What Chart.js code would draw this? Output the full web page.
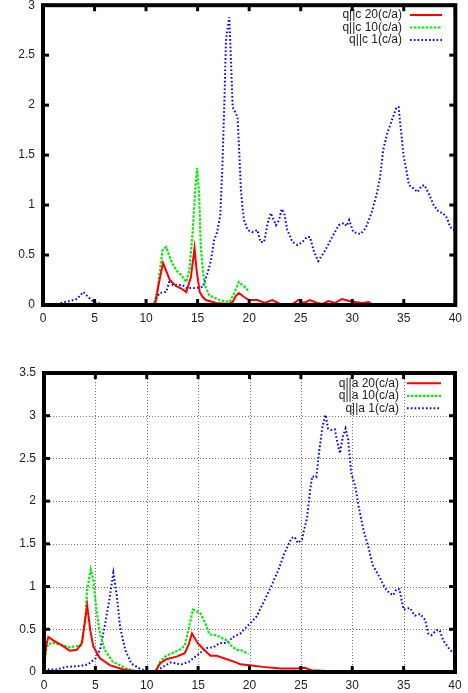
<!DOCTYPE html>
<html>
<head>
<meta charset="utf-8">
<script src="https://cdn.jsdelivr.net/npm/chart.js@4.4.1/dist/chart.umd.min.js"></script>
<style>
  html, body { margin: 0; padding: 0; background: #fff; width: 468px; height: 693px; overflow: hidden; }
  .wrap { position: absolute; left: 0; width: 468px; }
  #w1 { top: -10px; height: 345px; }
  #w2 { top: 340px; height: 353px; }
  canvas { display: block; }
</style>
</head>
<body>
<div class="wrap" id="w1"><canvas id="c1" width="468" height="345"></canvas></div>
<div class="wrap" id="w2"><canvas id="c2" width="468" height="353"></canvas></div>
<script>
// ---------- data ----------
const xTicks = [0, 5, 10, 15, 20, 25, 30, 35, 40];
const yTicksTop = [0, 0.5, 1, 1.5, 2, 2.5, 3];
const yTicksBottom = [0, 0.5, 1, 1.5, 2, 2.5, 3, 3.5];

const labelsTop = ['q||c 20(c/a)', 'q||c 10(c/a)', 'q||c 1(c/a)'];
const labelsBottom = ['q||a 20(c/a)', 'q||a 10(c/a)', 'q||a 1(c/a)'];

const qc20 = [[0,0],[10.5,0],[10.9,0.02],[11.3,0.25],[11.65,0.42],[12.0,0.33],[12.3,0.25],[12.9,0.19],[13.5,0.16],[13.9,0.13],[14.35,0.28],[14.7,0.57],[14.9,0.35],[15.2,0.13],[15.5,0.08],[15.8,0.05],[16.8,0.02],[18.0,0.01],[18.4,0.03],[18.7,0.09],[19.0,0.12],[19.5,0.08],[20.0,0.05],[20.8,0.05],[21.5,0.02],[22.25,0.05],[23.0,0.01],[24.2,0.01],[24.8,0.05],[25.3,0.02],[25.9,0.05],[26.6,0.02],[27.1,0.01],[27.7,0.04],[28.3,0.02],[29.0,0.06],[29.7,0.04],[30.3,0.03],[31.0,0.02],[31.6,0.03],[32.0,0.0],[40,0]];
const qc10 = [[0,0],[10.5,0],[10.8,0.02],[11.1,0.15],[11.6,0.55],[11.95,0.58],[12.4,0.45],[12.9,0.35],[13.4,0.3],[13.9,0.23],[14.2,0.35],[14.5,0.7],[14.8,1.2],[14.95,1.37],[15.15,1.1],[15.3,0.6],[15.5,0.35],[15.7,0.2],[16.1,0.1],[17.1,0.05],[18.1,0.03],[18.55,0.12],[19.0,0.23],[19.7,0.17],[20.0,0.13]];
const qc1 = [[1.4,0],[1.7,0.02],[2.6,0.04],[3.3,0.06],[3.9,0.13],[4.4,0.08],[4.9,0.03],[5.8,0.01],[6.5,0],[10.4,0],[10.8,0.03],[11.3,0.12],[11.95,0.13],[12.3,0.25],[12.6,0.2],[13.55,0.2],[13.9,0.17],[14.7,0.17],[15.5,0.18],[16.0,0.33],[16.3,0.45],[16.6,0.65],[16.9,0.73],[17.2,0.9],[17.4,1.38],[17.6,2.05],[17.75,2.65],[18.07,2.88],[18.2,2.55],[18.4,1.98],[18.55,1.95],[18.87,1.88],[19.03,1.55],[19.2,1.15],[19.35,0.98],[19.5,0.85],[19.85,0.75],[20.3,0.73],[20.8,0.75],[21.1,0.63],[21.45,0.63],[21.8,0.82],[22.1,0.92],[22.6,0.8],[22.9,0.85],[23.15,0.96],[23.4,0.92],[23.7,0.75],[24.2,0.63],[24.7,0.6],[25.15,0.63],[25.6,0.68],[25.9,0.68],[26.3,0.53],[26.7,0.44],[27.4,0.55],[28.05,0.68],[28.7,0.8],[29.2,0.82],[29.45,0.79],[29.7,0.85],[30.1,0.73],[30.8,0.71],[31.3,0.77],[31.9,0.93],[32.4,1.12],[32.7,1.28],[33.0,1.55],[33.4,1.72],[33.85,1.85],[34.3,1.98],[34.5,1.98],[34.65,1.82],[35.0,1.48],[35.3,1.32],[35.5,1.2],[35.9,1.17],[36.35,1.13],[36.7,1.19],[37.0,1.2],[37.4,1.12],[37.9,1.0],[38.4,0.93],[38.8,0.92],[39.2,0.87],[39.5,0.78],[40,0.74]];

const qa20 = [[0,0.06],[0.2,0.3],[0.42,0.41],[0.9,0.37],[1.9,0.3],[2.5,0.25],[3.2,0.26],[3.7,0.34],[4.0,0.61],[4.2,0.78],[4.5,0.49],[4.8,0.3],[5.45,0.16],[6.4,0.08],[7.7,0.03],[9,0.01],[10,0],[10.8,0],[11.3,0.1],[11.9,0.15],[12.9,0.18],[13.7,0.22],[14.1,0.33],[14.4,0.45],[14.95,0.34],[15.5,0.27],[16.2,0.19],[16.8,0.19],[17.8,0.15],[18.75,0.11],[19.1,0.09],[20.0,0.08],[21.3,0.06],[23.0,0.04],[24.6,0.04],[25.4,0.05],[26.0,0.02],[28,0.01],[33,0.01],[34,0],[40,0]];
const qa10 = [[0,0.06],[0.2,0.25],[0.4,0.33],[0.9,0.34],[1.55,0.32],[2.5,0.29],[3.6,0.31],[4.0,0.6],[4.2,0.96],[4.55,1.2],[4.8,1.08],[5.1,0.73],[5.45,0.45],[5.9,0.26],[6.7,0.12],[8.0,0.04],[9,0.01],[10,0],[10.8,0],[11.3,0.12],[11.9,0.19],[13.2,0.26],[13.7,0.31],[14.2,0.57],[14.5,0.73],[15.2,0.69],[15.7,0.57],[16.1,0.44],[16.8,0.43],[17.8,0.37],[18.2,0.31],[18.75,0.26],[19.1,0.26],[19.9,0.21]];
const qa1 = [[0,0.03],[1.2,0.03],[2.2,0.06],[3.5,0.07],[4.3,0.09],[5.0,0.16],[5.45,0.26],[5.9,0.53],[6.35,0.84],[6.75,1.16],[7.1,0.88],[7.4,0.53],[7.9,0.26],[8.5,0.1],[9.3,0.04],[10,0.01],[10.8,0.01],[11.3,0.04],[12.3,0.11],[13.4,0.09],[14.1,0.12],[14.95,0.2],[15.8,0.28],[16.5,0.29],[17.1,0.34],[17.8,0.34],[18.4,0.41],[19.1,0.45],[19.9,0.55],[20.7,0.65],[21.3,0.8],[22.1,1.0],[22.8,1.19],[23.4,1.39],[24.1,1.57],[24.4,1.58],[24.7,1.51],[25.1,1.55],[25.3,1.66],[25.6,1.8],[25.9,2.13],[26.1,2.29],[26.5,2.28],[26.8,2.6],[27.1,2.87],[27.4,3.01],[27.65,2.85],[28.0,2.83],[28.3,2.84],[28.5,2.72],[28.8,2.56],[29.1,2.76],[29.35,2.85],[29.6,2.72],[29.9,2.33],[30.3,2.17],[30.6,1.95],[31.1,1.66],[31.55,1.47],[32.0,1.25],[32.7,1.1],[33.2,0.98],[33.65,0.92],[34.0,0.9],[34.3,0.97],[34.6,0.97],[34.8,0.84],[35.0,0.73],[35.6,0.75],[36.1,0.66],[36.6,0.68],[37.1,0.61],[37.4,0.45],[37.7,0.43],[38.2,0.49],[38.5,0.49],[38.85,0.37],[39.5,0.26],[39.7,0.24],[40,0.22]];

// ---------- styling ----------
Chart.defaults.font.family = '"Liberation Sans", Arial, sans-serif';
Chart.defaults.font.size = 12;
Chart.defaults.color = '#222';

const toPts = arr => arr.map(p => ({ x: p[0], y: p[1] }));
const fmt = v => String(Math.round(v * 100) / 100);

const styles = [
  { borderColor: '#ff0000', borderWidth: 2, borderDash: [] },
  { borderColor: '#00ee00', borderWidth: 2.2, borderDash: [2.5, 1.5] },
  { borderColor: '#0000ff', borderWidth: 2, borderDash: [1.6, 2.2] }
];

const gnuPlugin = {
  id: 'gnu',
  beforeDatasetsDraw(chart, args, opts) {
    if (!opts.grid) return;
    const { ctx, chartArea: a, scales: { x, y } } = chart;
    ctx.save();
    ctx.strokeStyle = 'rgba(0,0,0,0.55)';
    ctx.lineWidth = 1;
    ctx.setLineDash([1, 2]);
    opts.xTicks.forEach(v => {
      if (v === x.min || v === x.max) return;
      const px = Math.round(x.getPixelForValue(v)) + 0.5;
      ctx.beginPath(); ctx.moveTo(px, a.top); ctx.lineTo(px, a.bottom); ctx.stroke();
    });
    opts.yTicks.forEach(v => {
      if (v === y.min || v === y.max) return;
      const py = Math.round(y.getPixelForValue(v)) + 0.5;
      ctx.beginPath(); ctx.moveTo(a.left, py); ctx.lineTo(a.right, py); ctx.stroke();
    });
    ctx.restore();
  },
  afterDraw(chart, args, opts) {
    const { ctx, chartArea: a, scales: { x, y } } = chart;
    ctx.save();
    ctx.strokeStyle = '#000';
    ctx.lineWidth = 3;
    ctx.setLineDash([]);
    const tl = 6;
    opts.xTicks.forEach(v => {
      const px = x.getPixelForValue(v);
      ctx.beginPath(); ctx.moveTo(px, a.bottom); ctx.lineTo(px, a.bottom - tl); ctx.stroke();
      ctx.beginPath(); ctx.moveTo(px, a.top); ctx.lineTo(px, a.top + tl); ctx.stroke();
    });
    opts.yTicks.forEach(v => {
      const py = y.getPixelForValue(v);
      ctx.beginPath(); ctx.moveTo(a.left, py); ctx.lineTo(a.left + tl, py); ctx.stroke();
      ctx.beginPath(); ctx.moveTo(a.right, py); ctx.lineTo(a.right - tl, py); ctx.stroke();
    });
    ctx.lineWidth = 4;
    ctx.strokeRect(a.left, a.top, a.right - a.left, a.bottom - a.top);
    ctx.font = '12px "Liberation Sans", Arial, sans-serif';
    ctx.textAlign = 'right';
    ctx.textBaseline = 'middle';
    chart.data.datasets.forEach((ds, i) => {
      const ry = opts.keyTop + i * opts.keyRow;
      ctx.fillStyle = '#222';
      ctx.fillText(ds.label, opts.keyTextRight, ry);
      ctx.strokeStyle = ds.borderColor;
      ctx.lineWidth = ds.borderWidth;
      ctx.setLineDash(ds.borderDash || []);
      ctx.beginPath(); ctx.moveTo(opts.keyX0, ry); ctx.lineTo(opts.keyX1, ry); ctx.stroke();
    });
    ctx.restore();
  }
};

function makeChart(id, series, labels, yMax, yTicks, layoutPad, xHeight, yWidth, gnuOpts) {
  return new Chart(document.getElementById(id), {
    type: 'line',
    data: {
      datasets: series.map((s, i) => Object.assign({
        label: labels[i],
        data: toPts(s),
        pointRadius: 0,
        tension: 0,
        fill: false,
        borderCapStyle: 'butt'
      }, styles[i]))
    },
    options: {
      responsive: false,
      animation: false,
      devicePixelRatio: 1,
      layout: { padding: layoutPad },
      plugins: { legend: { display: false }, tooltip: { enabled: false }, gnu: gnuOpts },
      scales: {
        x: {
          type: 'linear', min: 0, max: 40,
          afterBuildTicks: s => { s.ticks = xTicks.map(v => ({ value: v })); },
          afterFit: s => { s.height = xHeight; },
          grid: { display: false, drawTicks: false },
          border: { display: false },
          ticks: { padding: 6, maxRotation: 0, autoSkip: false, callback: fmt }
        },
        y: {
          type: 'linear', min: 0, max: yMax,
          afterBuildTicks: s => { s.ticks = yTicks.map(v => ({ value: v })); },
          afterFit: s => { s.width = yWidth; },
          grid: { display: false, drawTicks: false },
          border: { display: false },
          ticks: { padding: 8, autoSkip: false, callback: fmt }
        }
      }
    },
    plugins: [gnuPlugin]
  });
}

makeChart('c1', [qc20, qc10, qc1], labelsTop, 3, yTicksTop,
  { top: 15, right: 11, bottom: 0, left: 0 }, 30, 43,
  { grid: false, xTicks: xTicks, yTicks: yTicksTop, keyTop: 25, keyRow: 12.5, keyTextRight: 402, keyX0: 410, keyX1: 442 });

makeChart('c2', [qa20, qa10, qa1], labelsBottom, 3.5, yTicksBottom,
  { top: 33, right: 13, bottom: 0, left: 0 }, 21, 44,
  { grid: true, xTicks: xTicks, yTicks: yTicksBottom, keyTop: 43.3, keyRow: 12.5, keyTextRight: 399, keyX0: 407, keyX1: 441 });
</script>
</body>
</html>
